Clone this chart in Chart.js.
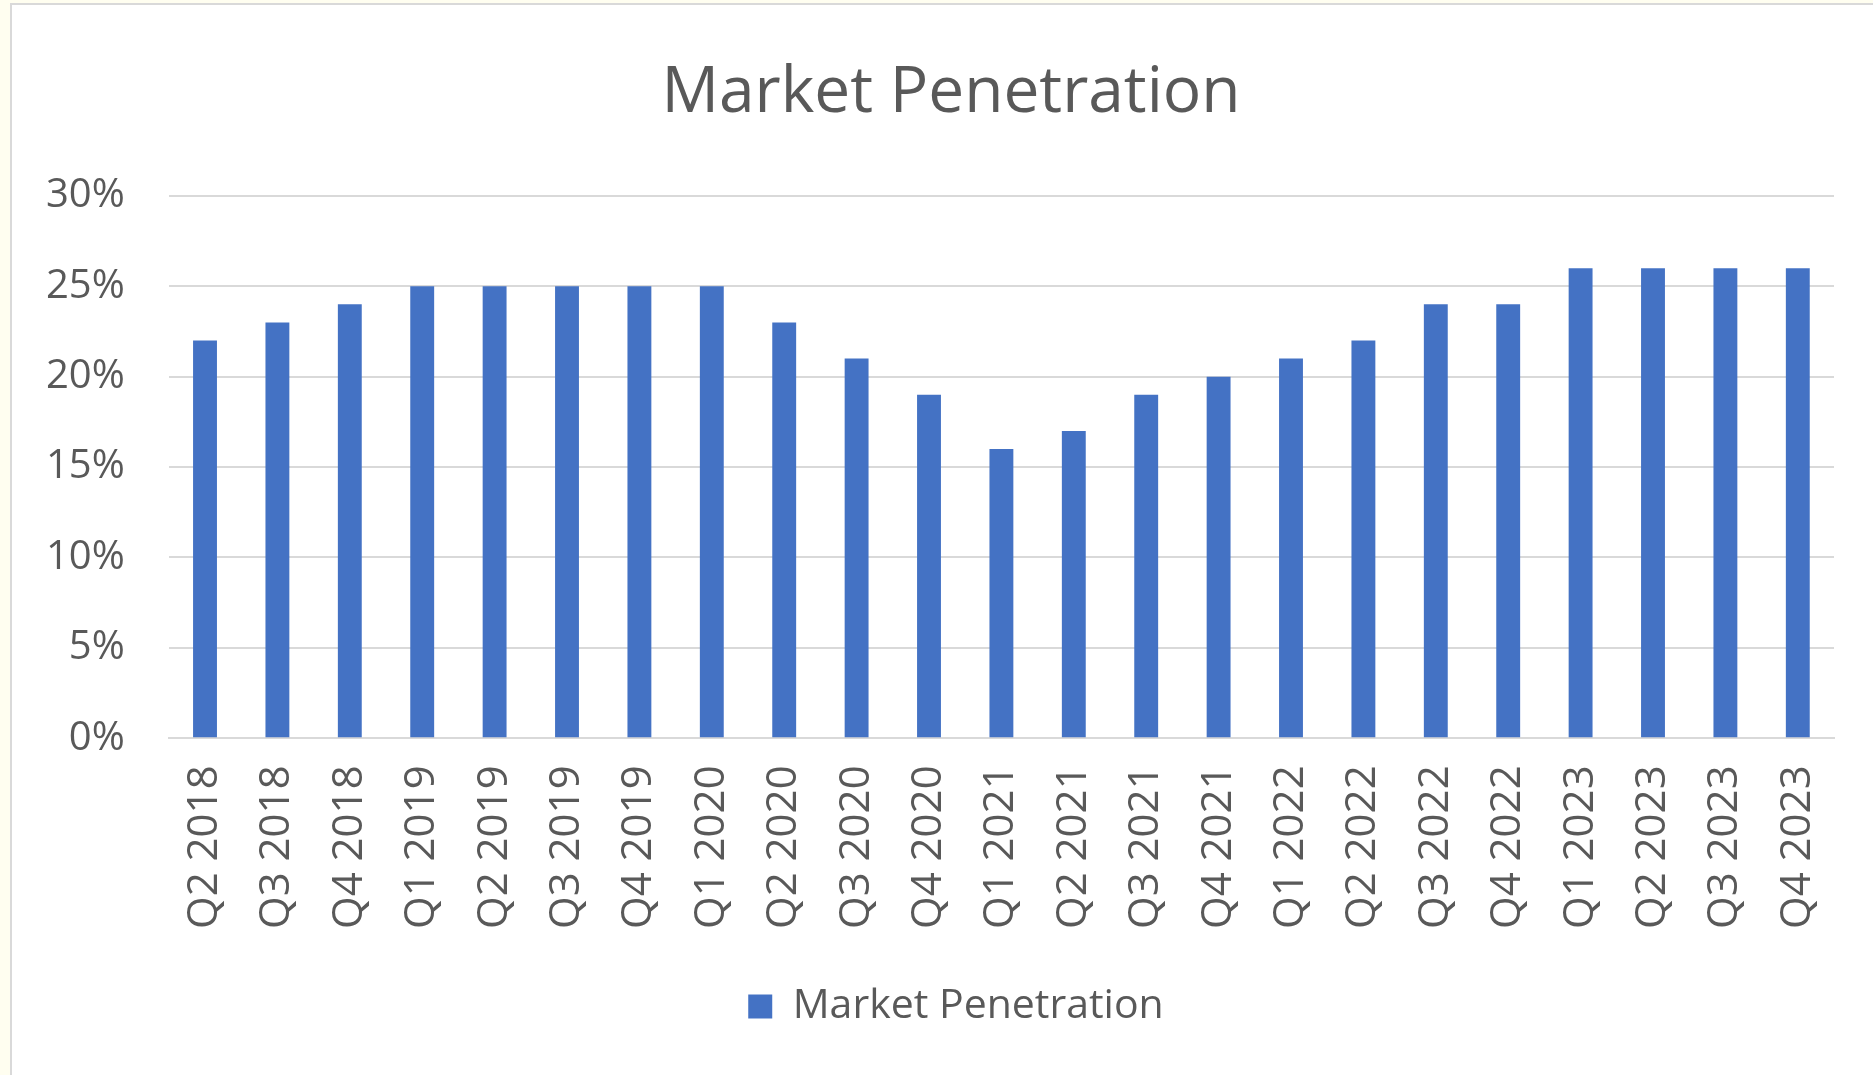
<!DOCTYPE html>
<html>
<head>
<meta charset="utf-8">
<title>Market Penetration</title>
<script src="https://cdn.jsdelivr.net/npm/chart.js@4"></script>
<style>
    html, body{
        margin:0;
        padding:0;
        width:1873px;
        height:1075px;
        overflow:hidden;
        background:#FFFEF0;
    }
    .panel{
        position:absolute;
        left:10px;
        top:3px;
        width:1880px;
        height:1080px;
        background:#FFFFFF;
        border-left:2px solid #D9D9D9;
        border-top:2px solid #D9D9D9;
    }
    #marketChart{
        position:absolute;
        left:0;
        top:0;
    }
</style>
</head>
<body>

<div class="panel">
    <canvas id="marketChart" width="1878" height="1072"></canvas>
</div>

<script>
/* =========================
   DATA
========================= */

const quarters = [
    "Q2 2018","Q3 2018","Q4 2018",
    "Q1 2019","Q2 2019","Q3 2019","Q4 2019",
    "Q1 2020","Q2 2020","Q3 2020","Q4 2020",
    "Q1 2021","Q2 2021","Q3 2021","Q4 2021",
    "Q1 2022","Q2 2022","Q3 2022","Q4 2022",
    "Q1 2023","Q2 2023","Q3 2023","Q4 2023"
];

// market penetration in percent
const penetration = [
    22,23,24,
    25,25,25,25,
    25,23,21,19,
    16,17,19,20,
    21,22,24,24,
    26,26,26,26
];

const yTicks = [0,5,10,15,20,25,30];

/* =========================
   STYLE
========================= */

const textColor = "#595959";
const gridColor = "#D9D9D9";
const barColor  = "#4472C4";
const fontName  = "'Open Sans', 'Noto Sans', sans-serif";

// title and legend sit centred on the whole panel, not on the plot
const titleShift  = 33;
const legendShift = 38;

const centreShift = {
    id:"centreShift",
    afterLayout(chart){
        if(chart.titleBlock){
            chart.titleBlock.left  += titleShift;
            chart.titleBlock.right += titleShift;
        }
        if(chart.legend){
            chart.legend.left  += legendShift;
            chart.legend.right += legendShift;
        }
    }
};

/* =========================
   CHART
========================= */

new Chart(document.getElementById("marketChart"),{
    type:"bar",
    data:{
        labels:quarters,
        datasets:[{
            label:"Market Penetration",
            data:penetration,
            backgroundColor:barColor,
            borderWidth:0,
            categoryPercentage:1,
            barPercentage:0.33
        }]
    },
    options:{
        responsive:false,
        animation:false,
        layout:{
            padding:{left:-10, right:56, top:0, bottom:40}
        },
        plugins:{
            title:{
                display:true,
                text:"Market Penetration",
                color:textColor,
                font:{family:fontName, size:64, weight:"normal"},
                padding:{top:50, bottom:64}
            },
            legend:{
                display:true,
                position:"bottom",
                labels:{
                    color:textColor,
                    font:{family:fontName, size:41},
                    boxWidth:24,
                    boxHeight:24,
                    padding:30
                }
            },
            tooltip:{enabled:false}
        },
        scales:{
            x:{
                grid:{display:false, drawTicks:false},
                border:{display:true, color:gridColor, width:2},
                ticks:{
                    color:textColor,
                    font:{family:fontName, size:42},
                    minRotation:90,
                    maxRotation:90,
                    autoSkip:false,
                    padding:27
                }
            },
            y:{
                min:0,
                max:30,
                afterBuildTicks:axis=>{
                    axis.ticks = yTicks.map(v=>({value:v}));
                },
                grid:{color:gridColor, lineWidth:2, drawTicks:false},
                border:{display:false},
                ticks:{
                    color:textColor,
                    font:{family:fontName, size:40},
                    padding:44,
                    callback:v=>v + "%"
                }
            }
        }
    },
    plugins:[centreShift]
});
</script>

</body>
</html>
